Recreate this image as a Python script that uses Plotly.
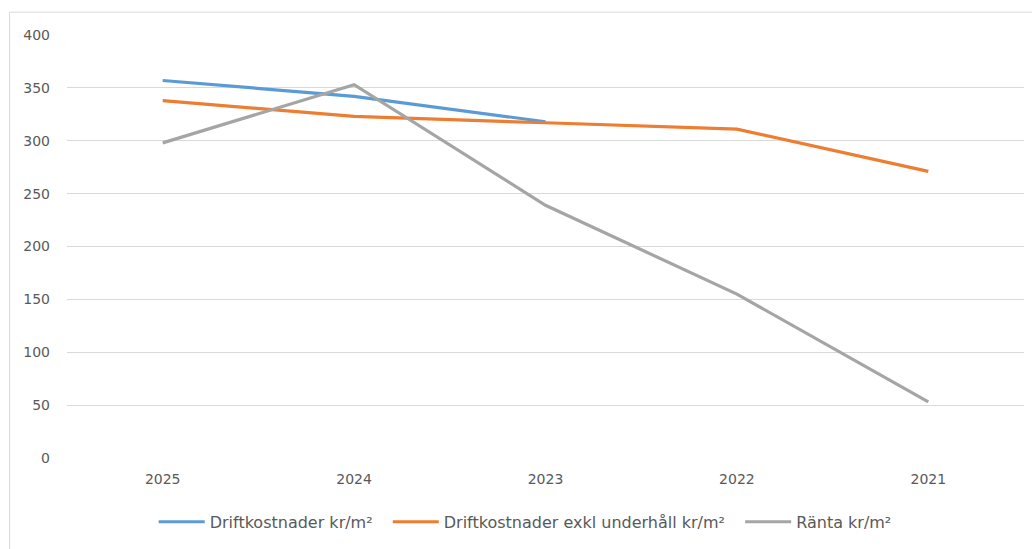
import plotly.graph_objects as go

# Årsvärden per kategori (kr/m²)
years = ["2025", "2024", "2023", "2022", "2021"]
driftkostnader = [357, 342, 318, None, None]
driftkostnader_exkl = [338, 323, 317, 311, 271]
ranta = [298, 353, 239, 155, 53]

series = [
    ("Driftkostnader kr/m²", driftkostnader, "#5B9BD5"),
    ("Driftkostnader exkl underhåll kr/m²", driftkostnader_exkl, "#ED7D31"),
    ("Ränta kr/m²", ranta, "#A5A5A5"),
]

# a little extra room after each legend label
pad = "\u00a0\u00a0"

fig = go.Figure()
for name, values, color in series:
    fig.add_trace(go.Scatter(
        x=years, y=values, name=name + pad, mode="lines",
        line=dict(color=color, width=3.2),
        connectgaps=False,
    ))

font_color = "#595959"
font_family = "DejaVu Sans, Verdana, sans-serif"
fig.update_layout(
    width=1032, height=549,
    margin=dict(l=67, r=8, t=35, b=91),
    paper_bgcolor="white", plot_bgcolor="white",
    font=dict(family=font_family, size=14, color=font_color),
    showlegend=True,
    legend=dict(
        orientation="h", x=0.484, xanchor="center", y=-0.151, yanchor="middle",
        font=dict(family=font_family, size=16, color=font_color), itemwidth=46,
        traceorder="normal",
    ),
    xaxis=dict(
        type="category", range=[-0.5, 4.5], showgrid=False, zeroline=False,
        showline=False, ticks="", ticklabelstandoff=11,
        tickfont=dict(family=font_family, size=14, color=font_color),
    ),
    yaxis=dict(
        range=[0, 400], dtick=50, showgrid=True, gridcolor="#D9D9D9", gridwidth=1,
        zeroline=False, showline=False, ticks="", ticklabelstandoff=16,
        tickfont=dict(family=font_family, size=14, color=font_color),
    ),
    shapes=[
        dict(type="line", xref="paper", yref="paper", x0=-0.06, x1=1.02, y0=1.054, y1=1.054,
             line=dict(color="#D9D9D9", width=1)),
        dict(type="line", xref="paper", yref="paper", x0=-0.06, x1=-0.06, y0=1.054, y1=-0.25,
             line=dict(color="#D9D9D9", width=1)),
    ],
)

fig.write_html("out.html")
